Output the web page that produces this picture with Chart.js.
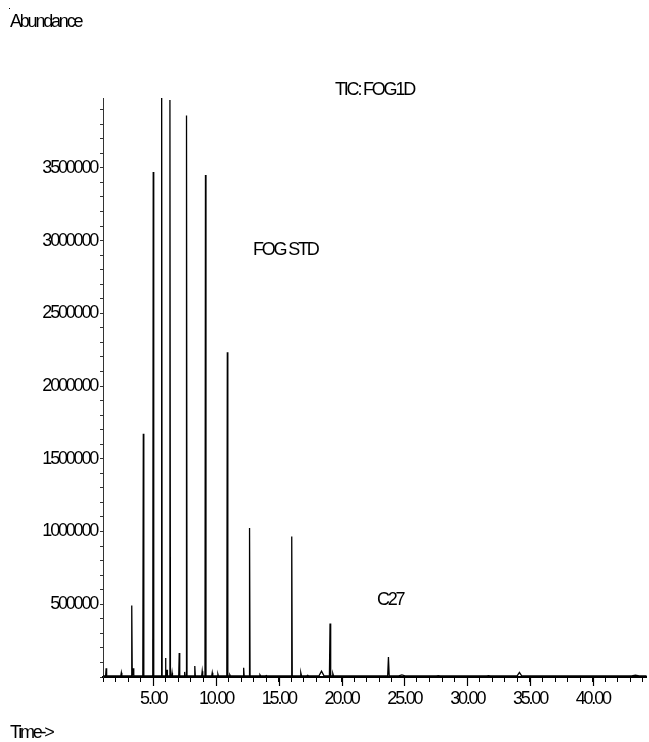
<!DOCTYPE html>
<html>
<head>
<meta charset="utf-8">
<script src="https://cdn.jsdelivr.net/npm/chart.js@4.4.1/dist/chart.umd.min.js"></script>
<style>
  html, body { margin: 0; padding: 0; background: #fff; }
  canvas { display: block; }
</style>
</head>
<body>
<canvas id="tic" width="649" height="742"></canvas>
<script>
// peak list (minutes, abundance, half width in minutes)
const retentionTimes = [1.25, 2.46, 3.29, 3.41, 4.21, 4.95, 5.0, 5.67, 5.98, 6.1, 6.33, 6.5, 7.07, 7.5, 7.65, 8.31, 8.9, 9.16, 9.7, 10.15, 10.9, 11.1, 12.2, 12.67, 13.5, 14.0, 16.03, 16.75, 17.3, 18.4, 19.08, 19.3, 23.73, 24.8, 27.7, 31.7, 34.16, 37.0, 43.4];
const abundances = [60000, 30000, 491000, 60000, 1672000, 260000, 3472000, 4300000, 130000, 50000, 3966000, 30000, 165000, 35000, 3860000, 76000, 40000, 3450000, 30000, 20000, 2233000, 15000, 64000, 1025000, 15000, 10000, 966000, 30000, 12000, 40000, 367000, 25000, 138000, 15000, 10000, 10000, 32000, 8000, 12000];
const peakHalfWidths = [0.04, 0.04, 0.04, 0.04, 0.04, 0.03, 0.04, 0.04, 0.03, 0.03, 0.04, 0.03, 0.04, 0.03, 0.04, 0.04, 0.04, 0.04, 0.04, 0.04, 0.04, 0.04, 0.04, 0.04, 0.05, 0.05, 0.04, 0.06, 0.06, 0.2, 0.05, 0.06, 0.06, 0.25, 0.15, 0.15, 0.18, 0.15, 0.3];
const baselineLevel = 8000;
const timeRange = [1.0, 44.3];
const abundanceMax = 3980000;
const yLabelStep = 500000;
const xLabelStep = 5;

const TEXT_FONT = '18px "Liberation Sans", Arial, sans-serif';
const SPACING = '-2.2px';

const trace = [{ x: timeRange[0], y: baselineLevel }];
retentionTimes.forEach((t, i) => {
    const w = peakHalfWidths[i];
    trace.push({ x: t - w, y: baselineLevel });
    trace.push({ x: t, y: abundances[i] });
    trace.push({ x: t + w, y: baselineLevel });
});
trace.push({ x: timeRange[1], y: baselineLevel });
trace.sort((a, b) => a.x - b.x);

const tightText = {
    id: 'tightText',
    beforeUpdate(chart) { chart.ctx.letterSpacing = SPACING; },
    beforeDraw(chart) { chart.ctx.letterSpacing = SPACING; },
    afterDraw(chart) {
        const ctx = chart.ctx;
        const xs = chart.scales.x;
        const bottom = chart.chartArea.bottom;
        ctx.save();
        ctx.strokeStyle = '#000';
        ctx.lineWidth = 1.2;
        // longer ticks at labelled times
        for (let v = xLabelStep; v < timeRange[1]; v += xLabelStep) {
            const px = Math.round(xs.getPixelForValue(v)) + 0.5;
            ctx.beginPath();
            ctx.moveTo(px, bottom);
            ctx.lineTo(px, bottom + 9);
            ctx.stroke();
        }
        ctx.letterSpacing = SPACING;
        ctx.font = TEXT_FONT;
        ctx.fillStyle = '#000';
        ctx.textBaseline = 'alphabetic';
        ctx.textAlign = 'left';
        ctx.fillText('Abundance', 10, 27);
        ctx.fillText('TIC: FOG1D', 335, 95);
        ctx.fillText('FOG STD', 253, 255);
        ctx.fillText('C27', 377, 605);
        ctx.fillText('Time->', 10, 738);
        ctx.fillRect(9, 8, 1, 1);
        ctx.restore();
    }
};

new Chart(document.getElementById('tic'), {
    type: 'line',
    data: {
        datasets: [{
            data: trace,
            borderColor: '#000',
            borderWidth: 1.3,
            pointRadius: 0,
            tension: 0,
            fill: false
        }]
    },
    options: {
        responsive: false,
        animation: false,
        events: [],
        layout: { padding: { top: 98, right: 1, left: 0, bottom: 0 } },
        plugins: { legend: { display: false }, tooltip: { enabled: false } },
        scales: {
            x: {
                type: 'linear',
                min: timeRange[0],
                max: timeRange[1],
                afterBuildTicks(scale) {
                    const ticks = [];
                    for (let v = Math.ceil(timeRange[0]); v <= timeRange[1]; v++) ticks.push({ value: v });
                    scale.ticks = ticks;
                },
                afterFit(scale) { scale.height = 65; },
                grid: { drawOnChartArea: false, drawTicks: true, tickLength: 5, color: '#000', lineWidth: 1 },
                border: { display: true, color: '#000', width: 2 },
                ticks: {
                    autoSkip: false,
                    maxRotation: 0,
                    padding: 6,
                    color: '#000',
                    font: { family: '"Liberation Sans", Arial, sans-serif', size: 18 },
                    callback: v => (v % xLabelStep === 0 ? v.toFixed(2) : '')
                }
            },
            y: {
                type: 'linear',
                min: 0,
                max: abundanceMax,
                afterBuildTicks(scale) {
                    const ticks = [];
                    for (let v = 0; v <= abundanceMax; v += 100000) ticks.push({ value: v });
                    scale.ticks = ticks;
                },
                afterFit(scale) { scale.width = 103; },
                grid: { drawOnChartArea: false, drawTicks: true, tickLength: 3, color: '#333', lineWidth: 1 },
                border: { display: true, color: '#333', width: 1 },
                ticks: {
                    autoSkip: false,
                    padding: 3,
                    color: '#000',
                    font: { family: '"Liberation Sans", Arial, sans-serif', size: 18 },
                    callback: v => (v > 0 && v % yLabelStep === 0 ? String(v) : '')
                }
            }
        }
    },
    plugins: [tightText]
});
</script>
</body>
</html>
